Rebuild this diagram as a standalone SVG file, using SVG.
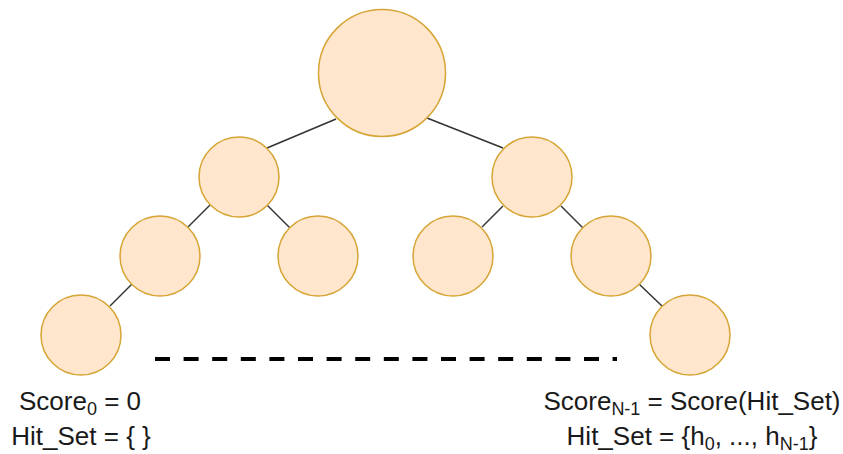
<svg xmlns="http://www.w3.org/2000/svg" width="843" height="454" viewBox="0 0 843 454">
  <style>
    .node { fill: #FFE6CC; stroke: #D6A535; stroke-width: 1.5; }
    .edge { stroke: #333333; stroke-width: 1.5; fill: none; }
    .dash { stroke: #000000; stroke-width: 4; stroke-dasharray: 15 13.6; fill: none; }
    .lbl { font-family: "Liberation Sans", Arial, Helvetica, sans-serif; font-size: 26px; fill: #1a1a1a; text-anchor: middle; }
    .sub { font-size: 18px; }
  </style>
  <rect width="843" height="454" fill="#ffffff"/>
  <g id="connectors">
    <line class="edge" x1="267" y1="148" x2="336" y2="119"/>
    <line class="edge" x1="427" y1="118" x2="503" y2="148"/>
    <line class="edge" x1="210" y1="205" x2="188" y2="227"/>
    <line class="edge" x1="267" y1="205" x2="290" y2="228"/>
    <line class="edge" x1="503" y1="206" x2="482" y2="227"/>
    <line class="edge" x1="561" y1="206" x2="583" y2="228"/>
    <line class="edge" x1="132" y1="284" x2="110" y2="306"/>
    <line class="edge" x1="639" y1="284" x2="662" y2="306"/>
  </g>
  <g id="root"><circle class="node" cx="382" cy="73" r="63.5"/></g>
  <g id="n1"><circle class="node" cx="239" cy="177" r="40"/></g>
  <g id="n2"><circle class="node" cx="532" cy="177" r="40"/></g>
  <g id="n3"><circle class="node" cx="160" cy="256" r="40"/></g>
  <g id="n4"><circle class="node" cx="318" cy="256" r="40"/></g>
  <g id="n5"><circle class="node" cx="453" cy="256" r="40"/></g>
  <g id="n6"><circle class="node" cx="611" cy="256" r="40"/></g>
  <g id="n7"><circle class="node" cx="81" cy="335" r="40"/></g>
  <g id="n8"><circle class="node" cx="690" cy="335" r="40"/></g>
  <g id="ellipsis"><line class="dash" x1="155" y1="359" x2="617" y2="359"/></g>
  <g id="label-left">
    <text class="lbl" x="80" y="410">Score<tspan class="sub" dy="5">0</tspan><tspan dy="-5"> = 0</tspan></text>
    <text class="lbl" x="81" y="445">Hit_Set = { }</text>
  </g>
  <g id="label-right">
    <text class="lbl" x="692" y="410">Score<tspan class="sub" dy="5">N-1</tspan><tspan dy="-5"> = Score(Hit_Set)</tspan></text>
    <text class="lbl" x="692" y="445">Hit_Set = {h<tspan class="sub" dy="5">0</tspan><tspan dy="-5">, ..., h</tspan><tspan class="sub" dy="5">N-1</tspan><tspan dy="-5">}</tspan></text>
  </g>
</svg>
